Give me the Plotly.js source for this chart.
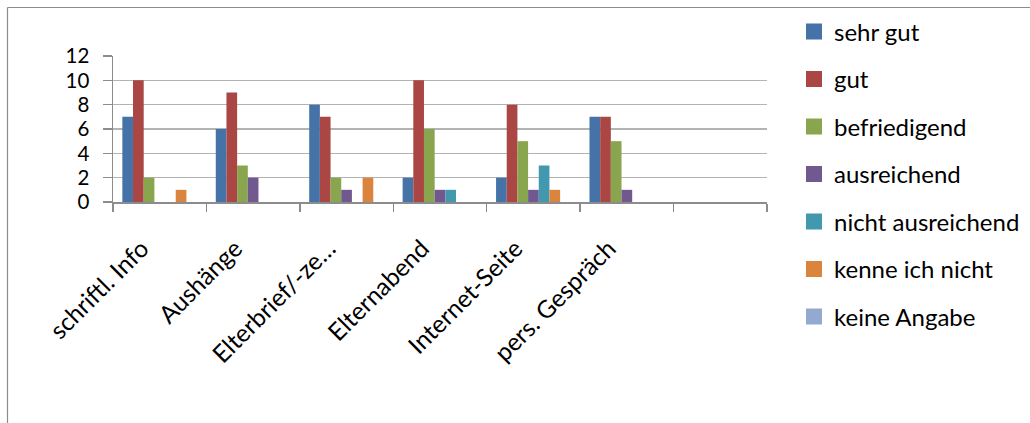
<!DOCTYPE html>
<html>
<head>
<meta charset="utf-8">
<script src="https://cdn.plot.ly/plotly-3.0.1.min.js"></script>
<style>html,body{margin:0;padding:0;background:#fff;}#chart{width:1030px;height:423px;}</style>
</head>
<body>
<div id="chart"></div>
<script>
const categories = ['schriftl. Info', 'Aushänge', 'Elterbrief/-ze…', 'Elternabend', 'Internet-Seite', 'pers. Gespräch', ' '];
const seriesNames = ['sehr gut', 'gut', 'befriedigend', 'ausreichend', 'nicht ausreichend', 'kenne ich nicht', 'keine Angabe'];
const sehrGut = [7, 6, 8, 2, 2, 7, 0];
const gut = [10, 9, 7, 10, 8, 7, 0];
const befriedigend = [2, 3, 2, 6, 5, 5, 0];
const ausreichend = [0, 2, 1, 1, 1, 1, 0];
const nichtAusreichend = [0, 0, 0, 1, 3, 0, 0];
const kenneIchNicht = [1, 0, 2, 0, 1, 0, 0];
const keineAngabe = [0, 0, 0, 0, 0, 0, 0];
const seriesValues = [sehrGut, gut, befriedigend, ausreichend, nichtAusreichend, kenneIchNicht, keineAngabe];
const colors = ['#4572A7', '#AA4643', '#89A54E', '#71588F', '#4198AF', '#DB843D', '#93A9CF'];
const yTicks = [0, 2, 4, 6, 8, 10, 12];

const FONT = 'Lato, "Open Sans", sans-serif';
const traces = [];
seriesNames.forEach((name, i) => {
  traces.push({
    type: 'bar', x: categories, y: seriesValues[i], name: name,
    marker: {color: colors[i], line: {width: 0}}, showlegend: false, hoverinfo: 'x+y+name'
  });
});
seriesNames.forEach((name, i) => {
  traces.push({
    type: 'scatter', mode: 'markers', x: [null], y: [null], name: name,
    legendgroup: 'g' + i,
    marker: {symbol: 'square', size: 17, color: colors[i]}, showlegend: true, hoverinfo: 'skip'
  });
});

const W = 1030, H = 423, L = 113, R = 767, T = 56, B = 202;
const px = v => (v - L) / (R - L);
const py = v => (B - v) / (B - T);

const layout = {
  width: W, height: H,
  margin: {l: L, r: W - R, t: T, b: H - B, pad: 0, autoexpand: false},
  paper_bgcolor: '#ffffff', plot_bgcolor: '#ffffff',
  font: {family: FONT, color: '#000000', size: 20},
  barmode: 'group', bargap: 0.2, bargroupgap: 0,
  showlegend: true,
  legend: {
    x: px(794), y: py(9.5), xanchor: 'left', yanchor: 'top',
    font: {family: FONT, size: 24, color: '#000'},
    traceorder: 'grouped', tracegroupgap: 13.3, maxheight: 420,
    bgcolor: 'rgba(0,0,0,0)', borderwidth: 0
  },
  xaxis: {
    type: 'category', categoryorder: 'array', categoryarray: categories,
    range: [-0.5, 6.5], fixedrange: true, automargin: false,
    showline: true, linecolor: '#8c8c8c', linewidth: 1.5,
    ticks: 'outside', tickson: 'boundaries', ticklen: 8, tickcolor: '#8c8c8c', tickwidth: 1.5,
    tickangle: -45, tickfont: {family: FONT, size: 24.5, color: '#000'},
    ticklabelstandoff: 21, ticklabelshift: -18,
    showgrid: false, zeroline: false
  },
  yaxis: {
    range: [0, 12], tickvals: yTicks, ticktext: yTicks.map(String), fixedrange: true, automargin: false,
    showline: true, linecolor: '#8c8c8c', linewidth: 1.5,
    ticks: 'outside', ticklen: 9, tickcolor: '#8c8c8c', tickwidth: 1.5,
    tickfont: {family: FONT, size: 20.5, color: '#000'},
    showgrid: true, gridcolor: '#b3b3b3', gridwidth: 1.5, zeroline: false,
    ticklabelstandoff: 9
  },
  shapes: [
    {type: 'line', xref: 'paper', yref: 'paper', x0: px(7.5), x1: px(7.5), y0: py(7.5), y1: py(440), line: {color: '#8c8c8c', width: 1.2}},
    {type: 'line', xref: 'paper', yref: 'paper', x0: px(7.5), x1: px(1040), y0: py(7.5), y1: py(7.5), line: {color: '#8c8c8c', width: 1.2}}
  ]
};

Plotly.newPlot('chart', traces, layout, {displayModeBar: false, staticPlot: true});
</script>
</body>
</html>
